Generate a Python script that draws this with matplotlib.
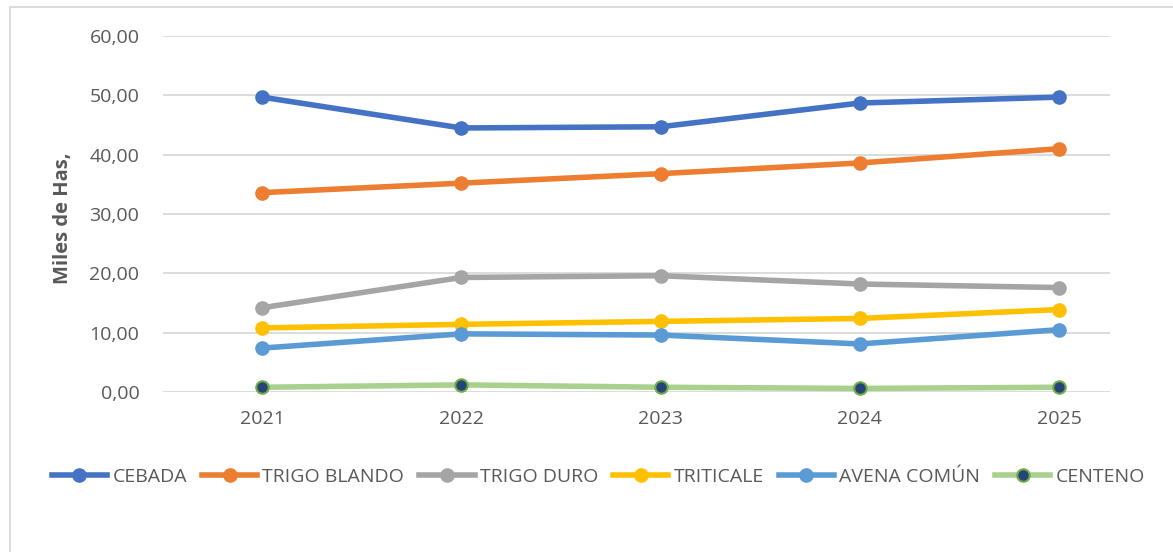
import matplotlib.pyplot as plt
from matplotlib.patches import Rectangle

# Data (miles de hectáreas)
years = ['2021', '2022', '2023', '2024', '2025']
cebada = [49.7, 44.5, 44.7, 48.7, 49.7]
trigo_blando = [33.6, 35.2, 36.8, 38.6, 41.0]
trigo_duro = [14.2, 19.3, 19.6, 18.2, 17.6]
triticale = [10.8, 11.4, 11.9, 12.4, 13.9]
avena_comun = [7.4, 9.8, 9.6, 8.1, 10.5]
centeno = [0.8, 1.2, 0.8, 0.6, 0.8]

series_names = ['CEBADA', 'TRIGO BLANDO', 'TRIGO DURO', 'TRITICALE', 'AVENA COMÚN', 'CENTENO']
series_values = [cebada, trigo_blando, trigo_duro, triticale, avena_comun, centeno]
line_colors = ['#4472C4', '#ED7D31', '#A5A5A5', '#FFC000', '#5B9BD5', '#A9D18E']
y_ticks = [0, 10, 20, 30, 40, 50, 60]

plt.rcParams['font.family'] = ['Open Sans', 'DejaVu Sans']
text_color = '#595959'

W, H = 1173, 552
fig = plt.figure(figsize=(W / 100, H / 100), dpi=100)
# plot area: left edge 163px, gridlines end at 1110px
ax = fig.add_axes([163 / W, 1 - 392 / H, (1110 - 163) / W, (392 - 36) / H])

x = list(range(len(years)))
for name, vals, col in zip(series_names, series_values, line_colors):
    if name == 'CENTENO':
        ax.plot(x, vals, color=col, linewidth=4, marker='o', markersize=9,
                markerfacecolor='#264478', markeredgecolor='#70AD47',
                markeredgewidth=1.5, label=name, zorder=3, clip_on=False)
    else:
        ax.plot(x, vals, color=col, linewidth=4, marker='o', markersize=9.5,
                label=name, zorder=3, clip_on=False)

# categories are spaced 199px apart, first one 99px right of the plot edge
step = 199.25
ax.set_xlim(-99 / step, (1110 - 262) / step)
ax.set_ylim(0, 60)
ax.set_yticks(y_ticks)
ax.set_yticklabels([f'{v:.2f}'.replace('.', ',') for v in y_ticks])
ax.set_xticks(x)
ax.set_xticklabels(years)
ax.grid(axis='y', color='#D9D9D9', linewidth=1.3)
ax.set_axisbelow(True)
for s in ax.spines.values():
    s.set_visible(False)
ax.tick_params(axis='both', length=0, labelsize=14, colors=text_color)
ax.tick_params(axis='y', pad=17)
ax.tick_params(axis='x', pad=13)

fig.text(63 / W, 1 - 218 / H, 'Miles de Has,', rotation=90, ha='center', va='center',
         fontsize=14.5, fontweight='bold', color=text_color)

fig.legend(loc='center left', bbox_to_anchor=(44 / W, 1 - 477 / H), ncol=6,
           frameon=False, fontsize=14, handlelength=2.85, handletextpad=0.26,
           columnspacing=0.77, labelcolor=text_color, borderaxespad=0)

# chart area border (cropped at right and bottom)
fig.patches.append(Rectangle((10 / W, -0.1), 1.2, 1 - 7 / H + 0.1,
                             transform=fig.transFigure, fill=False,
                             edgecolor='#D9D9D9', linewidth=1.3))

fig.savefig('out.png', dpi=100)
